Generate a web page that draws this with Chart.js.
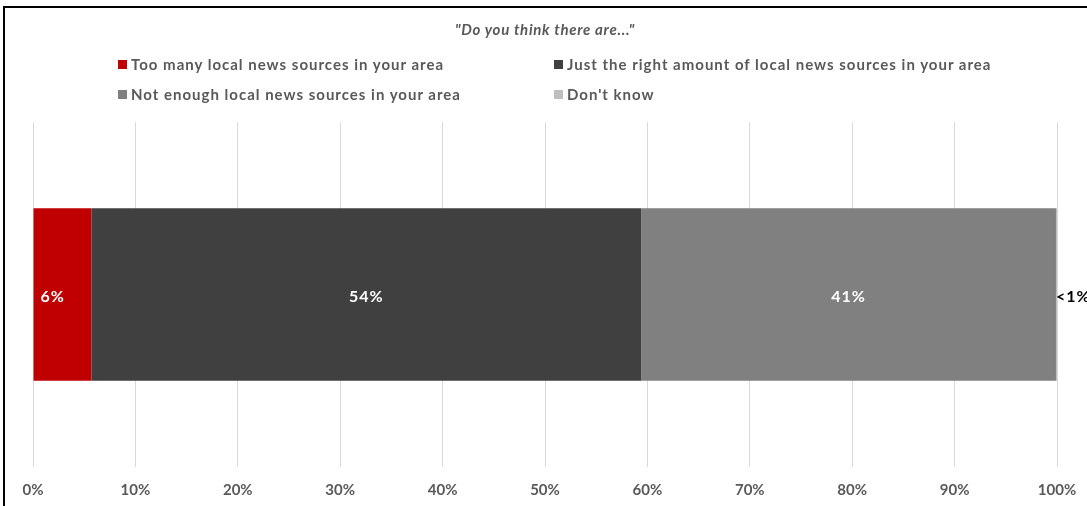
<!DOCTYPE html>
<html>
<head>
<meta charset="utf-8">
<script src="https://cdn.jsdelivr.net/npm/chart.js@4"></script>
<style>
  html, body { margin: 0; padding: 0; background: #fff; }
  #wrap { position: relative; width: 1087px; height: 506px; overflow: hidden; }
  #frame { position: absolute; left: 3px; top: 6px; width: 1200px; height: 600px;
           border-left: 2px solid #000; border-top: 2px solid #000; box-sizing: border-box; }
  #title { position: absolute; left: 33px; width: 1024px; top: 20px; text-align: center;
           font: italic bold 15px Lato, sans-serif; letter-spacing: 0.7px; color: #595959; }
  .leg { position: absolute; font: bold 15px Lato, sans-serif; letter-spacing: 1px; color: #595959; white-space: nowrap;
         display: flex; align-items: center; }
  .leg i { display: inline-block; width: 9px; height: 9px; margin-right: 4px; }
  canvas { position: absolute; left: 0; top: 0; }
</style>
</head>
<body>
<div id="wrap">
  <div id="frame"></div>
  <canvas id="c" width="1087" height="506"></canvas>
  <div id="title"></div>
  <div id="legend"></div>
</div>
<script>
const categories = ['Local news sources'];
const seriesNames = [
  'Too many local news sources in your area',
  'Just the right amount of local news sources in your area',
  'Not enough local news sources in your area',
  "Don't know"
];
const tooMany = [5.7];
const justRight = [53.7];
const notEnough = [40.5];
const dontKnow = [0.1];
const valueLabels = ['6%', '54%', '41%', '<1%'];
const seriesColors = ['#C00000', '#404040', '#808080', '#BFBFBF'];
const labelColors = ['#ffffff', '#ffffff', '#ffffff', '#000000'];
const tickValues = [0, 10, 20, 30, 40, 50, 60, 70, 80, 90, 100];
const titleText = '"Do you think there are..."';

document.getElementById('title').textContent = titleText;

const seriesData = [tooMany, justRight, notEnough, dontKnow];

const valueLabelPlugin = {
  id: 'valueLabels',
  afterDatasetsDraw(chart) {
    const ctx = chart.ctx;
    ctx.save();
    ctx.font = 'bold 16px Lato, sans-serif';
    try { ctx.letterSpacing = '1px'; } catch (e) {}
    ctx.textBaseline = 'middle';
    chart.data.datasets.forEach((ds, i) => {
      const meta = chart.getDatasetMeta(i);
      meta.data.forEach((el) => {
        ctx.fillStyle = labelColors[i];
        const y = el.y + 2;
        if (i === 3) {
          ctx.textAlign = 'left';
          ctx.fillText(valueLabels[i], el.x - 1, y);
        } else if (i === 0) {
          ctx.textAlign = 'left';
          ctx.fillText(valueLabels[i], el.base + 7, y);
        } else {
          ctx.textAlign = 'center';
          ctx.fillText(valueLabels[i], (el.x + el.base) / 2, y);
        }
      });
    });
    ctx.restore();
  }
};

const chart = new Chart(document.getElementById('c'), {
  type: 'bar',
  data: {
    labels: categories,
    datasets: seriesNames.map((name, i) => ({
      label: name,
      data: seriesData[i],
      backgroundColor: seriesColors[i],
      borderWidth: 0,
      categoryPercentage: 1,
      barPercentage: 0.5
    }))
  },
  options: {
    indexAxis: 'y',
    responsive: false,
    animation: false,
    layout: { padding: { left: 33, right: 30, top: 122, bottom: 7 } },
    plugins: {
      legend: { display: false },
      title: { display: false },
      tooltip: { enabled: false }
    },
    scales: {
      x: {
        stacked: true,
        min: 0, max: 100,
        afterBuildTicks: (axis) => { axis.ticks = tickValues.map(v => ({ value: v })); },
        grid: { color: '#D9D9D9', drawTicks: true, tickLength: 14, tickColor: 'rgba(0,0,0,0)' },
        border: { display: false },
        ticks: {
          padding: 0,
          color: '#595959',
          font: { family: 'Lato, sans-serif', size: 15, weight: 'bold' },
          callback: (v) => v + '%'
        }
      },
      y: {
        stacked: true,
        display: false
      }
    }
  },
  plugins: [valueLabelPlugin]
});

// HTML legend built from the chart's datasets
const legendPos = [[118, 55], [554, 55], [118, 85], [554, 85]];
const legendEl = document.getElementById('legend');
chart.data.datasets.forEach((ds, i) => {
  const d = document.createElement('div');
  d.className = 'leg';
  d.style.left = legendPos[i][0] + 'px';
  d.style.top = legendPos[i][1] + 'px';
  const box = document.createElement('i');
  box.style.background = ds.backgroundColor;
  d.appendChild(box);
  d.appendChild(document.createTextNode(ds.label));
  legendEl.appendChild(d);
});
</script>
</body>
</html>
